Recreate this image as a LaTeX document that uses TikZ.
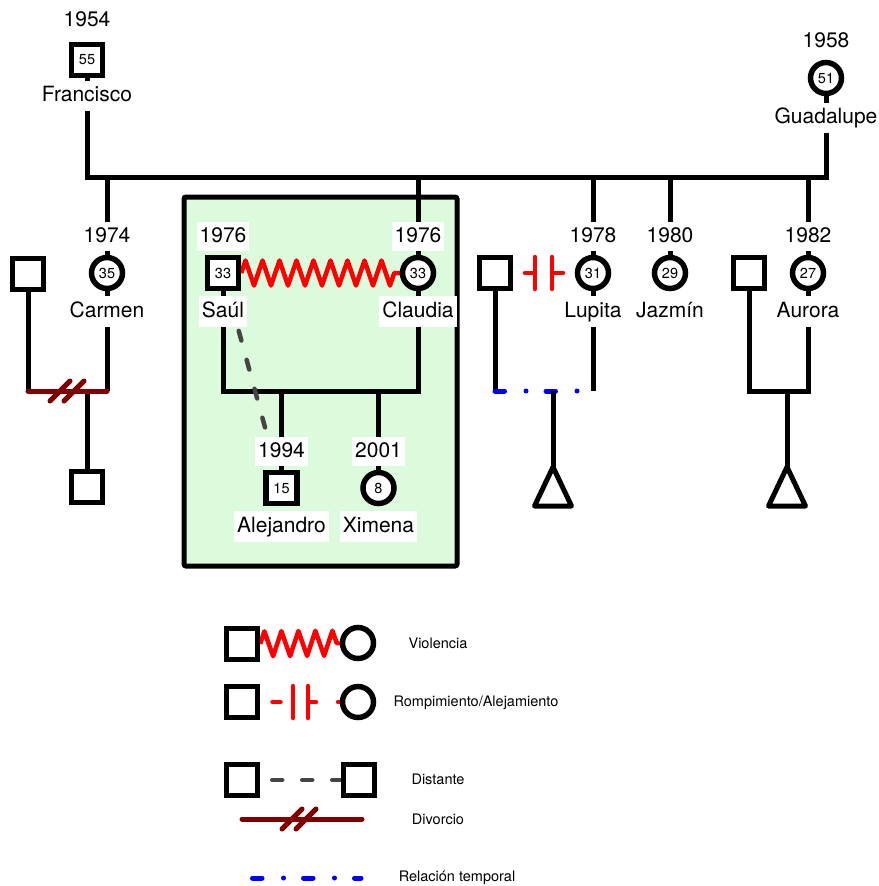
\documentclass[tikz,border=0pt]{standalone}
\usepackage{fontspec}
\setmainfont{TeX Gyre Heros}
\usepackage{xcolor}
\usepackage{tikz}
\usetikzlibrary{positioning,backgrounds,calc,decorations.pathmorphing}
\definecolor{nucgreen}{RGB}{220,250,220}
\definecolor{divred}{RGB}{128,0,0}
\definecolor{distgray}{RGB}{68,68,68}
\tikzset{
  male/.style={rectangle, draw, fill=white, line width=5.5pt, minimum size=31pt,
    inner sep=0pt, font=\fontsize{14.5pt}{16pt}\selectfont},
  female/.style={circle, draw, fill=white, line width=5.5pt, minimum size=31pt,
    inner sep=0pt, font=\fontsize{14.5pt}{16pt}\selectfont},
  yr/.style={fill=white, inner xsep=3pt, inner ysep=5pt, text height=15pt, text depth=4pt,
    font=\fontsize{21pt}{24pt}\selectfont},
  nm/.style={yr, text height=16pt, text depth=4.5pt},
  legtxt/.style={font=\fontsize{14.5pt}{17pt}\selectfont},
  ln/.style={line width=5pt},
  viol/.style={red, line width=4.5pt, line join=round, decorate,
    decoration={zigzag, segment length=17pt, amplitude=12.5pt}},
  brk/.style={red, line width=4.5pt, line cap=round},
  dist/.style={distgray, line width=4.5pt, line cap=round, dash pattern=on 10pt off 20pt},
  divc/.style={divred, line width=5pt, line cap=round},
  tmp/.style={blue, line width=5pt, line cap=round,
    dash pattern=on 9.5pt off 21.5pt on 0pt off 20pt},
}

\begin{document}
\begin{tikzpicture}[x=1pt, y=-1pt]
  \useasboundingbox (0,0) rectangle (878,886);
  % grandparents
  \node[male] (fr) at (87,60) {55};
  \node[yr, above=6pt of fr] (yrFr) {1954};
  \node[nm, below=2.5pt of fr] (nmFr) {Francisco};
  \node[female] (gu) at (826,78) {51};
  \node[yr, above=3pt of gu] (yrGu) {1958};
  \node[nm, below=6.5pt of gu] (nmGu) {Guadalupe};
  % children row
  \node[male] (cmH) at (28,274) {};
  \node[female] (cm) at (107,273) {35};
  \node[yr, above=3.5pt of cm] (yrCm) {1974};
  \node[nm, below=5pt of cm] (nmCm) {Carmen};
  \node[male] (cmKid) at (87,487) {};
  \node[male] (sa) at (223,273) {33};
  \node[yr, above=3.5pt of sa] (yrSa) {1976};
  \node[nm, below=5pt of sa] (nmSa) {Saúl};
  \node[female] (cl) at (418,273) {33};
  \node[yr, above=3.5pt of cl] (yrCl) {1976};
  \node[nm, below=5pt of cl] (nmCl) {Claudia};
  \node[male] (lpH) at (495,273) {};
  \node[female] (lp) at (593,273) {31};
  \node[yr, above=3.5pt of lp] (yrLp) {1978};
  \node[nm, below=5pt of lp] (nmLp) {Lupita};
  \node[female] (jz) at (670,273) {29};
  \node[yr, above=3.5pt of jz] (yrJz) {1980};
  \node[nm, below=5pt of jz] (nmJz) {Jazmín};
  \node[male] (auH) at (749,273) {};
  \node[female] (au) at (808,273) {27};
  \node[yr, above=3.5pt of au] (yrAu) {1982};
  \node[nm, below=5pt of au] (nmAu) {Aurora};
  % grandchildren
  \node[male] (al) at (281.5,488) {15};
  \node[yr, above=3.5pt of al] (yrAl) {1994};
  \node[nm, below=5pt of al] (nmAl) {Alejandro};
  \node[female] (xi) at (378.5,488) {8};
  \node[yr, above=3.5pt of xi] (yrXi) {2001};
  \node[nm, below=5pt of xi] (nmXi) {Ximena};
  % legend
  \node[male] (lgS1) at (242,644) {};
  \node[female] (lgC1) at (358,643) {};
  \node[legtxt] (txViol) at (438,643) {Violencia};
  \node[male] (lgS2) at (242,702) {};
  \node[female] (lgC2) at (358,702) {};
  \node[legtxt] (txBrk) at (476,703) {Rompimiento/Alejamiento};
  \node[male] (lgS3) at (242,780) {};
  \node[male] (lgS4) at (359,780) {};
  \node[legtxt] (txDist) at (438,779) {Distante};
  \coordinate (lgD1) at (242,819);
  \coordinate (lgD2) at (362,819);
  \node[legtxt] (txDiv) at (438,819) {Divorcio};
  \coordinate (lgT1) at (252.5,878);
  \coordinate (lgT2) at (361,878);
  \node[legtxt] (txTmp) at (457,878) {Relación temporal};

  \begin{scope}[on background layer]
    % Saul + Claudia household
    \node[draw, line width=5pt, fill=nucgreen, rounded corners=2pt,
          minimum width=273pt, minimum height=369pt] (nuc) at (320.5,381.5) {};
    % sibship line
    \coordinate (sib) at (0,177);
    \draw[ln] (fr) -- (fr |- sib) -- (gu |- sib) -- (gu);
    \draw[ln] (cm |- sib) -- (cm);
    \draw[ln] (cl |- sib) -- (cl);
    \draw[ln] (lp |- sib) -- (lp);
    \draw[ln] (jz |- sib) -- (jz);
    \draw[ln] (au |- sib) -- (au);
    % Carmen: divorced
    \coordinate (cmM) at (87,391);
    \draw[ln] (cmH) -- (cmH |- cmM);
    \draw[ln] (cm) -- (cm |- cmM);
    \draw[ln] (cmM) -- (cmKid);
    \draw[divc] (cmH |- cmM) -- (cm |- cmM);
    \coordinate (cmD) at ($(cmH |- cmM)!0.5!(cm |- cmM)$);
    \draw[divc] ($(cmD)+(-17.5,10)$) -- ++(20,-20) ($(cmD)+(-3.5,10)$) -- ++(20,-20);
    % Saul + Claudia
    \coordinate (scM) at (0,391);
    \draw[ln] (sa) -- (sa |- scM) -- (cl |- scM) -- (cl);
    \draw[ln] (al |- scM) -- (al);
    \draw[ln] (xi |- scM) -- (xi);
    \draw[viol] (sa) -- (cl);
    \draw[dist] (sa.center) -- (al.center);
    % Lupita: temporary relation, cut off
    \coordinate (lpM) at (553,391);
    \coordinate (lpKid) at (553,467);
    \draw[ln] (lpH) -- (lpH |- lpM);
    \draw[ln] (lp) -- (lp |- lpM);
    \draw[tmp] (lpH |- lpM) -- (lp |- lpM);
    \draw[ln] (lpM) -- (lpKid);
    \coordinate (lpB) at ($(lpH)!0.5!(lp)$);
    \draw[brk] ($(lpB)+(-19,0)$) -- ++(10,0) ++(0,-16) -- ++(0,32)
               ($(lpB)+(8,-16)$) -- ++(0,32) ++(0,-16) -- ++(11,0);
    % Aurora
    \coordinate (auM) at (787,391);
    \coordinate (auKid) at (787,467);
    \draw[ln] (auH) -- (auH |- auM) -- (au |- auM) -- (au);
    \draw[ln] (auM) -- (auKid);
    % legend lines
    \draw[viol] (lgS1) -- (lgC1);
    \coordinate (lgB) at (300.5,702);
    \draw[brk] ($(lgB)+(-28,0)$) -- ++(8,0) ($(lgB)+(-7.5,-16)$) -- ++(0,32)
               ($(lgB)+(7.5,-16)$) -- ++(0,32) ++(0,-16) -- ++(8,0)
               ($(lgB)+(37.5,0)$) -- ++(7,0);
    \draw[dist, dash phase=18pt] (lgS3) -- (lgS4);
    \draw[divc] (lgD1) -- (lgD2);
    \coordinate (lgDm) at ($(lgD1)!0.5!(lgD2)$);
    \draw[divc] ($(lgDm)+(-20,10)$) -- ++(20,-20) ($(lgDm)+(-6,10)$) -- ++(20,-20);
    \draw[tmp] (lgT1) -- (lgT2);
  \end{scope}
  % unknown children
  \draw[ln, line join=round] (lpKid) -- ++(-18.5,39) -- ++(37,0) -- cycle;
  \draw[ln, line join=round] (auKid) -- ++(-18.5,39) -- ++(37,0) -- cycle;
\end{tikzpicture}
\end{document}
